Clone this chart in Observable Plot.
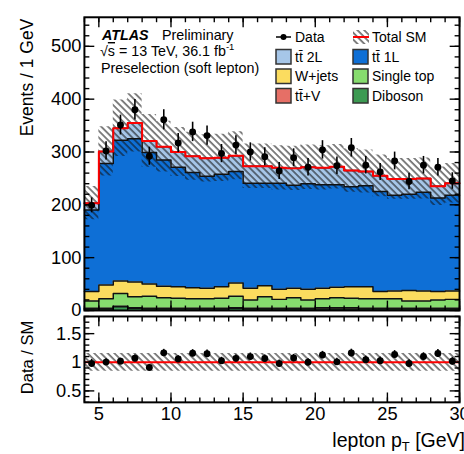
<!DOCTYPE html>
<html><head><meta charset="utf-8">
<script src="https://cdn.jsdelivr.net/npm/d3@7"></script>
<script src="https://cdn.jsdelivr.net/npm/@observablehq/plot@0.6"></script>
<style>
html,body{margin:0;padding:0;background:#fff;overflow:hidden;}
#wrap{position:relative;width:464px;height:454px;overflow:hidden;font-family:"Liberation Sans",Arial,sans-serif;}
#wrap svg{position:absolute;left:0;}
</style></head><body>
<svg width="0" height="0" style="position:absolute">
  <defs>
    <pattern id="hatch" width="4.8" height="4.8" patternUnits="userSpaceOnUse" patternTransform="rotate(-45)">
      <line x1="1" y1="0" x2="1" y2="4.8" stroke="#111" stroke-width="1.05"/>
    </pattern>
  </defs>
</svg>
<div id="wrap"></div>
<script>
// ---- data ----
const binLow = [4,5,6,7,8,9,10,11,12,13,14,15,16,17,18,19,20,21,22,23,24,25,26,27,28,29];
const binHighLast = 30;
const dataCounts = [199,302,351,380,292,361,317,338,331,297,313,300,291,264,289,271,304,274,308,275,262,283,244,275,271,245];
const diboson   = [3,3,7,4,3,3,3,3,3,3,4,3,3,3,3,3,3,3,3,3,3,3,3,3,3,3];
const ttV       = [1,1,1,1,1,1,1,1,1,1,1,1,1,1,1,1,2,2,2,1,1,1,1,1,1,1];
const singleTop = [14,18,24,21,23,20,19,18,18,19,22,16,22,17,20,16,17,19,18,18,18,18,14,14,16,17];
const wjets     = [18,26,24,28,23,22,22,21,20,22,25,22,21,19,18,20,20,20,22,23,14,15,20,19,16,16];
const tt1L      = [154,230,266,271,249,239,226,218,212,213,211,199,194,201,195,200,196,194,189,191,189,181,182,187,177,181];
const tt2L      = [13,23,23,30,22,25,29,31,34,31,30,32,32,29,32,31,32,34,31,27,30,31,29,26,22,23];
const systRel   = [0.155,0.155,0.155,0.155,0.155,0.155,0.155,0.155,0.155,0.155,0.155,0.155,0.155,0.155,0.155,0.155,0.155,0.155,0.155,0.155,0.155,0.155,0.155,0.155,0.155,0.155];
const componentNames = ["Diboson","ttV","Single top","W+jets","tt1L","tt2L"];
const componentValues = [diboson, ttV, singleTop, wjets, tt1L, tt2L];
const componentColors = ["#3c9a52","#e66f66","#86dc6e","#fbdc5f","#0e6fd6","#a6c6e8"];
const xMajorTicks = [5,10,15,20,25,30];
const xMinorTicks = [4,5,6,7,8,9,10,11,12,13,14,15,16,17,18,19,20,21,22,23,24,25,26,27,28,29,30];
const yMainMajor = [0,100,200,300,400,500];
const yMainMinor = [0,20,40,60,80,100,120,140,160,180,200,220,240,260,280,300,320,340,360,380,400,420,440,460,480,500,520,540];
const yRatioMajor = [0.5,1,1.5];
const yRatioMinor = [0.3,0.4,0.5,0.6,0.7,0.8,0.9,1,1.1,1.2,1.3,1.4,1.5,1.6,1.7,1.8];

// ---- derived tables ----
const nb = binLow.length;
const stackRows = [];
componentNames.forEach((c, k) => {
  for (let i = 0; i < nb; i++) stackRows.push({x: binLow[i], comp: c, v: componentValues[k][i]});
  stackRows.push({x: binHighLast, comp: c, v: componentValues[k][nb - 1]});
});
const totals = binLow.map((_, i) => componentValues.reduce((s, a) => s + a[i], 0));
const bandRows = binLow.map((x, i) => ({x, tot: totals[i], u: systRel[i]}));
bandRows.push({x: binHighLast, tot: totals[nb - 1], u: systRel[nb - 1]});
const points = binLow.map((x, i) => ({
  c: x + 0.5, n: dataCounts[i], e: Math.sqrt(dataCounts[i]),
  r: dataCounts[i] / totals[i], re: Math.sqrt(dataCounts[i]) / totals[i]
}));

const tick = (dx, dy) => ({draw(ctx) { ctx.moveTo(0, 0); ctx.lineTo(dx, dy); }});
const font = {fontFamily: "'Liberation Sans', Arial, sans-serif", fontSize: "18.5px", background: "transparent", overflow: "visible", color: "black"};
const tickStyle = {stroke: "black", strokeWidth: 1.4, fill: "none", r: 5};

function frameTicks(xMaj, xMin, yMaj, yMin, L, l) {
  return [
    Plot.dot(xMaj, {x: d => d, frameAnchor: "bottom", symbol: tick(0, -L), ...tickStyle}),
    Plot.dot(xMin, {x: d => d, frameAnchor: "bottom", symbol: tick(0, -l), ...tickStyle}),
    Plot.dot(xMaj, {x: d => d, frameAnchor: "top", symbol: tick(0, L), ...tickStyle}),
    Plot.dot(xMin, {x: d => d, frameAnchor: "top", symbol: tick(0, l), ...tickStyle}),
    Plot.dot(yMaj, {y: d => d, frameAnchor: "left", symbol: tick(L, 0), ...tickStyle}),
    Plot.dot(yMin, {y: d => d, frameAnchor: "left", symbol: tick(l, 0), ...tickStyle}),
    Plot.dot(yMaj, {y: d => d, frameAnchor: "right", symbol: tick(-L, 0), ...tickStyle}),
    Plot.dot(yMin, {y: d => d, frameAnchor: "right", symbol: tick(-l, 0), ...tickStyle})
  ];
}

const main = Plot.plot({
  width: 470, height: 316,
  marginLeft: 85, marginRight: 5, marginTop: 17, marginBottom: 2,
  style: font,
  x: {domain: [4, 30], axis: null},
  y: {domain: [0, 555], axis: null},
  color: {domain: componentNames, range: componentColors, legend: false},
  marks: [
    Plot.areaY(stackRows, {x: "x", y: "v", z: "comp", fill: "comp", curve: "step-after"}),
    Plot.lineY(stackRows, Plot.stackY2({x: "x", y: "v", z: "comp", curve: "step-after", stroke: "#111", strokeWidth: 1.5})),
    Plot.areaY(bandRows, {x: "x", y1: d => d.tot * (1 - d.u), y2: d => d.tot * (1 + d.u), curve: "step-after", fill: "url(#hatch)"}),
    Plot.lineY(bandRows, {x: "x", y: "tot", curve: "step-after", stroke: "#ff0000", strokeWidth: 2}),
    Plot.ruleX(points, {x: "c", y1: d => d.n - d.e, y2: d => d.n + d.e, stroke: "black", strokeWidth: 1.6}),
    Plot.dot(points, {x: "c", y: "n", r: 3.5, fill: "black"}),
    Plot.frame({stroke: "black", strokeWidth: 2}),
    ...frameTicks(xMajorTicks, xMinorTicks, yMainMajor, yMainMinor, 10, 5),
    Plot.axisY({ticks: yMainMajor, tickSize: 0, tickPadding: 3, label: null, tickFormat: d => String(d)})
  ]
});
main.style.top = "0px";

const ratio = Plot.plot({
  width: 470, height: 140,
  marginLeft: 85, marginRight: 5, marginTop: 2, marginBottom: 51,
  style: font,
  x: {domain: [4, 30], axis: null},
  y: {domain: [0.3, 1.8], axis: null},
  marks: [
    Plot.areaY(bandRows, {x: "x", y1: d => 1 - d.u, y2: d => 1 + d.u, curve: "step-after", fill: "url(#hatch)"}),
    Plot.ruleY([1], {stroke: "#ff0000", strokeWidth: 2}),
    Plot.ruleX(points, {x: "c", y1: d => d.r - d.re, y2: d => d.r + d.re, stroke: "black", strokeWidth: 1.6}),
    Plot.dot(points, {x: "c", y: "r", r: 3.5, fill: "black"}),
    Plot.frame({stroke: "black", strokeWidth: 2}),
    ...frameTicks(xMajorTicks, xMinorTicks, yRatioMajor, yRatioMinor, 10, 5),
    Plot.axisY({ticks: yRatioMajor, tickSize: 0, tickPadding: 3, label: null, tickFormat: d => String(d)}),
    Plot.axisX({ticks: xMajorTicks, tickSize: 0, tickPadding: 5, label: null, tickFormat: d => String(d)})
  ]
});
ratio.style.top = "314px";

const wrap = document.getElementById("wrap");
wrap.appendChild(main);
wrap.appendChild(ratio);

// ---- overlay: labels and legend ----
const legendEntries = [
  {label: "t\u0074\u0304 2L", color: componentColors[5], col: 0, row: 1},
  {label: "t\u0074\u0304 1L", color: componentColors[4], col: 1, row: 1},
  {label: "W+jets", color: componentColors[3], col: 0, row: 2},
  {label: "Single top", color: componentColors[2], col: 1, row: 2},
  {label: "t\u0074\u0304+V", color: componentColors[1], col: 0, row: 3},
  {label: "Diboson", color: componentColors[0], col: 1, row: 3}
];
const rowY = [37, 56.5, 76, 95.5];
const colX = [276, 353];
const NS = "http://www.w3.org/2000/svg";
const ov = document.createElementNS(NS, "svg");
ov.setAttribute("width", 464); ov.setAttribute("height", 454);
ov.style.top = "0px";
ov.style.fontFamily = "'Liberation Sans', Arial, sans-serif";
function el(tag, attrs, text) {
  const e = document.createElementNS(NS, tag);
  for (const k in attrs) e.setAttribute(k, attrs[k]);
  if (text != null) e.textContent = text;
  ov.appendChild(e);
  return e;
}
// Data legend
el("line", {x1: colX[0], x2: colX[0] + 15, y1: rowY[0], y2: rowY[0], stroke: "#000", "stroke-width": 1.5});
el("circle", {cx: colX[0] + 7.5, cy: rowY[0], r: 3, fill: "#000"});
el("text", {x: colX[0] + 19, y: rowY[0] + 5, "font-size": 14}, "Data");
// Total SM legend
el("rect", {x: colX[1], y: rowY[0] - 7, width: 16, height: 14, fill: "url(#hatch)"});
el("line", {x1: colX[1], x2: colX[1] + 16, y1: rowY[0], y2: rowY[0], stroke: "#ff0000", "stroke-width": 2});
el("text", {x: colX[1] + 19, y: rowY[0] + 5, "font-size": 14}, "Total SM");
for (const e of legendEntries) {
  const x = colX[e.col], y = rowY[e.row];
  el("rect", {x: x, y: y - 7, width: 15, height: 14.5, fill: e.color, stroke: "#333", "stroke-width": 1.5});
  el("text", {x: x + 19, y: y + 5, "font-size": 14}, e.label);
}
// ATLAS label
const t1 = el("text", {x: 102, y: 39.5, "font-size": 14.3});
const a = document.createElementNS(NS, "tspan"); a.setAttribute("font-weight", "bold"); a.setAttribute("font-style", "italic"); a.textContent = "ATLAS"; t1.appendChild(a);
const p = document.createElementNS(NS, "tspan"); p.setAttribute("x", 162); p.textContent = "Preliminary"; t1.appendChild(p);
const t2 = el("text", {x: 100, y: 56, "font-size": 14.3});
const s1 = document.createElementNS(NS, "tspan"); s1.textContent = "\u221A"; t2.appendChild(s1);
const s2 = document.createElementNS(NS, "tspan"); s2.setAttribute("text-decoration", "overline"); s2.textContent = "s"; t2.appendChild(s2);
const s3 = document.createElementNS(NS, "tspan"); s3.textContent = " = 13 TeV, 36.1 fb"; t2.appendChild(s3);
const s4 = document.createElementNS(NS, "tspan"); s4.setAttribute("font-size", 9.5); s4.setAttribute("dy", -6); s4.textContent = "-1"; t2.appendChild(s4);
el("text", {x: 101, y: 72.5, "font-size": 14.3}, "Preselection (soft lepton)");
// axis titles
el("text", {transform: "translate(33,77.5) rotate(-90)", "text-anchor": "middle", "font-size": 17.5}, "Events / 1 GeV");
el("text", {transform: "translate(33,357.5) rotate(-90)", "text-anchor": "middle", "font-size": 16.5}, "Data / SM");
const xt = el("text", {x: 465, y: 447, "text-anchor": "end", "font-size": 19.5});
const x1 = document.createElementNS(NS, "tspan"); x1.textContent = "lepton p"; xt.appendChild(x1);
const x2 = document.createElementNS(NS, "tspan"); x2.setAttribute("font-size", 13); x2.setAttribute("dy", 4); x2.textContent = "T"; xt.appendChild(x2);
const x3 = document.createElementNS(NS, "tspan"); x3.setAttribute("dy", -4); x3.textContent = " [GeV]"; xt.appendChild(x3);
wrap.appendChild(ov);
</script>
</body></html>
